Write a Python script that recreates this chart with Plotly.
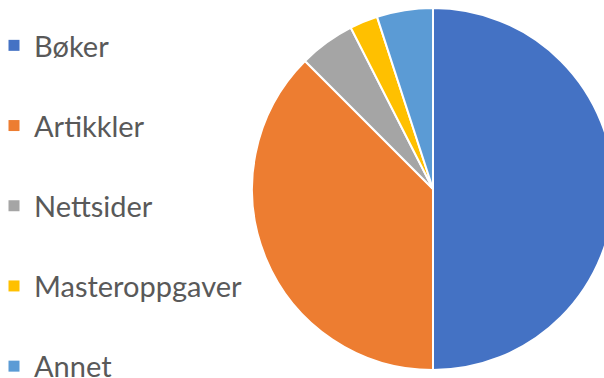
import plotly.graph_objects as go

categories = ["Bøker", "Artikkler", "Nettsider", "Masteroppgaver", "Annet"]
values = [50, 37.5, 5, 2.5, 5]
colors = ["#4472C4", "#ED7D31", "#A5A5A5", "#FFC000", "#5B9BD5"]

SHIFT = 6
W, H = 614 + SHIFT, 392
fig = go.Figure()
fig.add_trace(go.Pie(
    labels=categories, values=values, sort=False, direction="clockwise", rotation=0,
    marker=dict(colors=colors, line=dict(color="white", width=2)),
    textinfo="none", hoverinfo="label+percent", showlegend=False,
    domain=dict(x=[(252 + SHIFT) / W, 1], y=[0, 1]),
))
for i, (c, col) in enumerate(zip(categories, colors)):
    fig.add_trace(go.Scatter(
        x=[None], y=[None], mode="markers", name=c, legendgroup=c,
        marker=dict(symbol="square", size=11, color=col),
    ))

fig.update_layout(
    width=W, height=H, autosize=False,
    margin=dict(l=0, r=0, t=8, b=H - 370),
    paper_bgcolor="white", plot_bgcolor="white",
    xaxis=dict(visible=False), yaxis=dict(visible=False),
    legend=dict(x=0, xanchor="left", y=1 - 12 / 362, yanchor="top",
                font=dict(family="Lato", size=29, color="#595959"),
                tracegroupgap=39.5, bgcolor="rgba(0,0,0,0)", maxheight=1000),
    showlegend=True,
)
fig.write_html(
    "out.html", config={"displayModeBar": False},
    post_script=(
        "document.body.style.margin='0';document.body.style.overflow='hidden';"
        "var d=document.getElementsByClassName('plotly-graph-div')[0];"
        "d.style.position='relative';d.style.left='-%dpx';" % SHIFT
    ),
)
